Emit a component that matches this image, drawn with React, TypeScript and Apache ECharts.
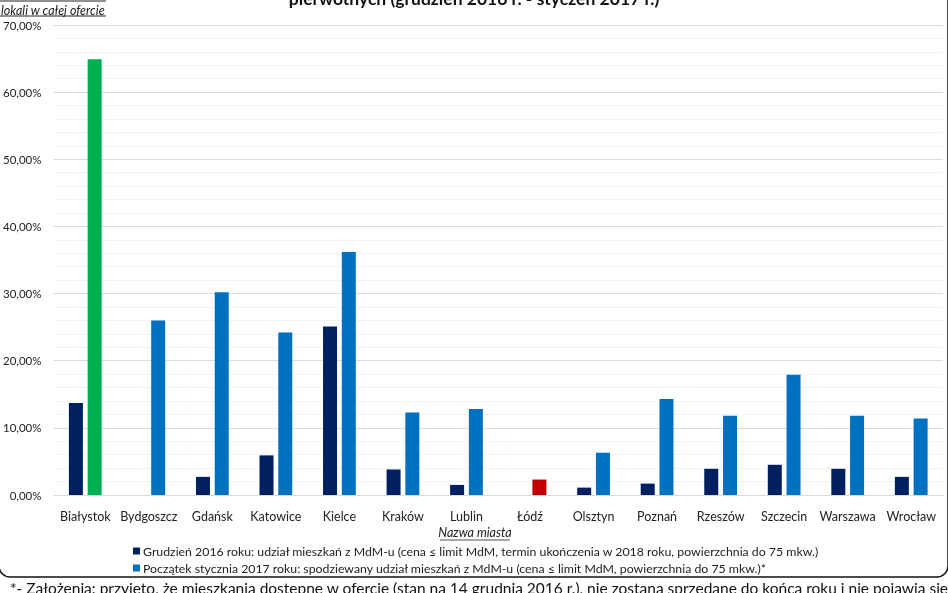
import React, { useEffect, useRef } from "react";
import * as echarts from "echarts";

const cities = ["Białystok", "Bydgoszcz", "Gdańsk", "Katowice", "Kielce", "Kraków", "Lublin", "Łódź", "Olsztyn", "Poznań", "Rzeszów", "Szczecin", "Warszawa", "Wrocław"];
const december2016 = [13.7, null, 2.7, 5.9, 25.1, 3.8, 1.5, null, 1.1, 1.7, 3.9, 4.5, 3.9, 2.7];
const january2017 = [64.9, 26.0, 30.2, 24.2, 36.2, 12.3, 12.8, 2.3, 6.3, 14.3, 11.8, 17.9, 11.8, 11.4];
const seriesNames = [
  "Grudzień 2016 roku: udział mieszkań z MdM-u (cena ≤ limit MdM, termin ukończenia w 2018 roku, powierzchnia do 75 mkw.)",
  "Początek stycznia 2017 roku: spodziewany udział mieszkań z MdM-u (cena ≤ limit MdM, powierzchnia do 75 mkw.)*",
];
const titleText = "pierwotnych (grudzień 2016 r. - styczeń 2017 r.)";
const yAxisTitle = "lokali w całej ofercie";
const xAxisTitle = "Nazwa miasta";
const footnote = "*- Założenia: przyjęto, że mieszkania dostępne w ofercie (stan na 14 grudnia 2016 r.), nie zostaną sprzedane do końca roku i nie pojawią się";

const highlight: Record<string, string> = { "Białystok": "#00B050", "Łódź": "#C00000" };
const FONT = "Lato, 'Noto Sans', sans-serif";

export default function App() {
  const ref = useRef<HTMLDivElement>(null);
  useEffect(() => {
    if (!ref.current) return;
    const chart = echarts.init(ref.current, null, { renderer: "svg" });
    chart.setOption({
      animation: false,
      textStyle: { fontFamily: FONT },
      grid: { left: 50, right: 5, top: 25, bottom: 98 },
      legend: {
        orient: "vertical",
        left: 128,
        top: 540,
        itemWidth: 7,
        itemHeight: 7,
        itemGap: 5,
        icon: "rect",
        textStyle: { fontSize: 12.3, color: "#222", fontFamily: FONT, padding: [0, 0, 0, -2] },
        data: seriesNames,
      },
      xAxis: {
        type: "category",
        data: cities,
        axisLine: { lineStyle: { color: "#d9d9d9" } },
        axisTick: { show: false },
        axisLabel: { color: "#222", fontSize: 12.5, margin: 15, fontFamily: FONT, interval: 0 },
      },
      yAxis: {
        type: "value",
        min: 0,
        max: 70,
        interval: 10,
        axisLabel: {
          color: "#222",
          fontSize: 11.5,
          margin: 12,
          fontFamily: FONT,
          formatter: (v: number) => v.toFixed(2).replace(".", ",") + "%",
        },
        splitLine: { lineStyle: { color: "#dcdcdc" } },
        minorTick: { show: false, splitNumber: 5 },
        minorSplitLine: { show: true, lineStyle: { color: "#f3f3f3" } },
      },
      series: [
        {
          name: seriesNames[0],
          type: "bar",
          data: december2016,
          barWidth: 14,
          barGap: "34%",
          itemStyle: { color: "#002060" },
        },
        {
          name: seriesNames[1],
          type: "bar",
          data: january2017.map((v, i) =>
            highlight[cities[i]] ? { value: v, itemStyle: { color: highlight[cities[i]] } } : v
          ),
          barWidth: 14,
          itemStyle: { color: "#0070C0" },
        },
      ],
      graphic: [
        {
          type: "text",
          left: "center",
          top: -11,
          style: { text: titleText, font: `bold 17.5px ${FONT}`, fill: "#111" },
        },
        { type: "line", shape: { x1: 0, y1: 1, x2: 106, y2: 1 }, style: { stroke: "#222", lineWidth: 1 } },
        {
          type: "text",
          x: 1,
          y: 4,
          style: { text: yAxisTitle, font: `italic 12.5px ${FONT}`, fill: "#222" },
        },
        { type: "line", shape: { x1: 0, y1: 16, x2: 106, y2: 16 }, style: { stroke: "#222", lineWidth: 1 } },
        {
          type: "text",
          x: 475,
          y: 526,
          style: { text: xAxisTitle, font: `italic 12.5px ${FONT}`, fill: "#222", textAlign: "center" },
        },
        { type: "line", shape: { x1: 440, y1: 540, x2: 510, y2: 540 }, style: { stroke: "#222", lineWidth: 0.8 } },
        {
          type: "rect",
          shape: { x: -1, y: -20, width: 949, height: 597, r: 11 },
          style: { fill: "none", stroke: "#111", lineWidth: 1.5 },
        },
        {
          type: "text",
          x: 10,
          y: 580,
          style: { text: footnote, font: `15.5px ${FONT}`, fill: "#111" },
        },
      ],
    });
    return () => chart.dispose();
  }, []);
  return <div ref={ref} style={{ position: "fixed", left: 0, top: 0, width: 948, height: 593 }} />;
}
